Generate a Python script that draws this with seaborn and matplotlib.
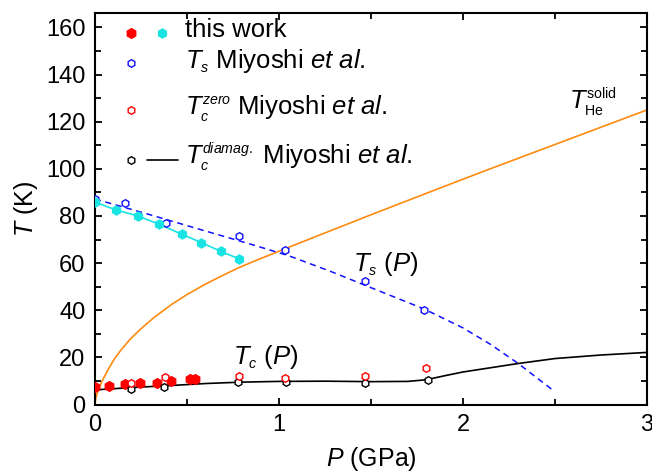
import numpy as np
import pandas as pd
import matplotlib
matplotlib.use("Agg")
import matplotlib.pyplot as plt
import matplotlib._mathtext as mathtext_mod
import seaborn as sns
from matplotlib.lines import Line2D
from matplotlib.legend_handler import HandlerTuple
from matplotlib.ticker import MultipleLocator

# this work: T_s (cyan) and T_c (red)
ts_work_P = [0.0, 0.112, 0.234, 0.348, 0.473, 0.578, 0.683, 0.783]
ts_work_T = [85.9, 82.6, 80.0, 76.5, 72.2, 68.7, 65.0, 61.8]
tc_work_P = [0.0, 0.074, 0.165, 0.243, 0.339, 0.415, 0.516, 0.545]
tc_work_T = [7.6, 7.9, 8.5, 9.0, 9.3, 9.9, 10.7, 10.7]

# Miyoshi et al.
ts_miy_P = [0.0, 0.161, 0.387, 0.781, 1.035, 1.465, 1.79]
ts_miy_T = [87.4, 85.5, 77.1, 71.6, 65.5, 52.3, 40.2]
tc_zero_P = [0.197, 0.382, 0.781, 1.031, 1.465, 1.797]
tc_zero_T = [9.3, 11.6, 12.1, 11.1, 12.0, 15.6]
tc_dia_P = [0.195, 0.375, 0.779, 1.038, 1.469, 1.808]
tc_dia_T = [6.7, 7.6, 9.6, 9.6, 9.2, 10.4]

# guide curves
ts_fit_P = [0.0, 0.3, 0.57, 0.83, 1.05, 1.28, 1.55, 1.79, 2.0, 2.15, 2.3, 2.49]
ts_fit_T = [87.2, 80.5, 74.3, 68.4, 63.2, 56.5, 48.0, 40.5, 32.5, 25.5, 17.4, 6.0]
tc_fit_P = [0.0, 0.2, 0.4, 0.6, 0.8, 1.0, 1.25, 1.5, 1.7, 1.8, 1.9, 2.0, 2.15, 2.3, 2.5, 2.75, 3.0]
tc_fit_T = [6.2, 7.2, 8.0, 8.9, 9.5, 9.8, 9.9, 9.7, 9.8, 10.5, 12.2, 13.8, 15.6, 17.4, 19.5, 21.0, 22.1]
he_P = [0.0, 0.004, 0.012, 0.034, 0.071, 0.105, 0.143, 0.19, 0.234, 0.28, 0.324, 0.415, 0.505,
        0.596, 0.687, 0.777, 0.868, 1.04, 1.23, 1.5, 1.8, 2.1, 2.4, 2.7, 3.0]
he_T = [0.0, 2.5, 4.8, 9.2, 14.8, 19.3, 23.3, 27.6, 31.0, 34.2, 37.1, 42.4, 46.9,
        50.9, 54.5, 57.9, 60.9, 66.3, 72.2, 80.5, 89.6, 98.6, 107.4, 116.2, 125.0]

RED = "#ff0000"
CYAN = "#19e3e3"
BLUE = "#1010ff"
ORANGE = "#ff8a10"

sns.set_theme(style="ticks")
plt.rcParams["font.family"] = ["Liberation Sans", "DejaVu Sans"]
plt.rcParams["mathtext.fontset"] = "custom"
plt.rcParams["mathtext.rm"] = "Liberation Sans"
plt.rcParams["mathtext.it"] = "Liberation Sans:italic"
plt.rcParams["mathtext.bf"] = "Liberation Sans:bold"
for key in ["text.color", "axes.labelcolor", "xtick.color", "ytick.color", "axes.edgecolor"]:
    plt.rcParams[key] = "black"
# smaller sub/superscripts, closer to the original figure
mathtext_mod.SHRINK_FACTOR = 0.55


class LowTuple(HandlerTuple):
    """HandlerTuple that sits the legend symbols a bit lower, near the text baseline."""

    def __init__(self, shift, **kw):
        super().__init__(**kw)
        self.shift = shift

    def create_artists(self, legend, orig_handle, xdescent, ydescent, width, height,
                       fontsize, trans):
        return super().create_artists(legend, orig_handle, xdescent,
                                      ydescent + 2 * self.shift * fontsize,
                                      width, height, fontsize, trans)


fig, ax = plt.subplots(figsize=(6.52, 4.76), dpi=100)
fig.subplots_adjust(left=95 / 652, right=647 / 652, bottom=1 - 404.5 / 476, top=1 - 13.3 / 476)

# lines
sns.lineplot(x=he_P, y=he_T, ax=ax, color=ORANGE, lw=1.2, sort=False, estimator=None)
sns.lineplot(x=ts_fit_P, y=ts_fit_T, ax=ax, color=BLUE, lw=1.1, sort=False, estimator=None)
ax.lines[-1].set_dashes((4, 3))
sns.lineplot(x=tc_fit_P, y=tc_fit_T, ax=ax, color="black", lw=1.2, sort=False, estimator=None)
sns.lineplot(x=ts_work_P, y=ts_work_T, ax=ax, color=CYAN, lw=1.2, sort=False, estimator=None)

# markers
open_kw = dict(ms=5.5, mfc="white", mew=1.0, ls="none")
ax.plot(ts_miy_P, ts_miy_T, "h", mec=BLUE, zorder=3, **open_kw)
ax.plot(ts_work_P, ts_work_T, "h", ms=6.5, color=CYAN, ls="none", zorder=4)
ax.plot(tc_work_P, tc_work_T, "h", ms=7, color=RED, ls="none", zorder=4)
ax.plot(tc_dia_P, tc_dia_T, "h", mec="black", zorder=5, **open_kw)
ax.plot(tc_zero_P, tc_zero_T, "h", mec=RED, zorder=6, **open_kw)

ax.set_xlim(0, 3)
ax.set_ylim(0, 166)
ax.xaxis.set_major_locator(MultipleLocator(1))
ax.xaxis.set_minor_locator(MultipleLocator(0.5))
ax.yaxis.set_major_locator(MultipleLocator(20))
ax.yaxis.set_minor_locator(MultipleLocator(10))
ax.tick_params(which="both", direction="in", top=True, right=True, width=1.3, color="black",
               labelsize=17)
ax.tick_params(which="major", length=5, pad=7)
ax.tick_params(which="minor", length=4)
for sp in ax.spines.values():
    sp.set_linewidth(1.5)

ax.set_xlabel(r"$P$ (GPa)", fontsize=18, labelpad=6)
ax.set_ylabel(r"$T$ (K)", fontsize=18, labelpad=4)

# annotations
ax.text(1.40, 56.5, r"$T_s$ $(P)$", fontsize=18.5)
ax.text(0.75, 17.2, r"$T_c$ $(P)$", fontsize=18.5)
ax.text(2.575, 125, r"$T_{\rm He}^{\rm solid}$", fontsize=18.5)

# legend (two blocks so the row spacing can follow the original)
h_red = Line2D([], [], marker="h", color=RED, ls="none", ms=7)
h_cyan = Line2D([], [], marker="h", color=CYAN, ls="none", ms=6.5)
h_blue = Line2D([], [], marker="h", mec=BLUE, **open_kw)
h_rzero = Line2D([], [], marker="h", mec=RED, **open_kw)
h_blk = Line2D([], [], marker="h", mec="black", **open_kw)
h_line = Line2D([], [], color="black", lw=1.2)
h_none = Line2D([], [], ls="none")

leg_kw = dict(handler_map={tuple: LowTuple(0.17, ndivide=2, pad=0)}, loc="upper left",
              frameon=False, fontsize=18.5, handlelength=2.4, handletextpad=0.3,
              borderpad=0, borderaxespad=0, numpoints=1)
leg1 = ax.legend([(h_red, h_cyan)], ["this work"], bbox_to_anchor=(0.038, 0.987), **leg_kw)
ax.add_artist(leg1)
labels = [
    r"$T_s$ Miyoshi $et\ al.$",
    r"$T_c^{zero}$ Miyoshi $et\ al.$",
    r"$T_c^{diamag.}$ Miyoshi $et\ al.$",
]
ax.legend([(h_blue, h_none), (h_rzero, h_none), (h_blk, h_line)], labels,
          bbox_to_anchor=(0.038, 0.914), labelspacing=0.71, **leg_kw)

fig.savefig("out.png", dpi=100)
